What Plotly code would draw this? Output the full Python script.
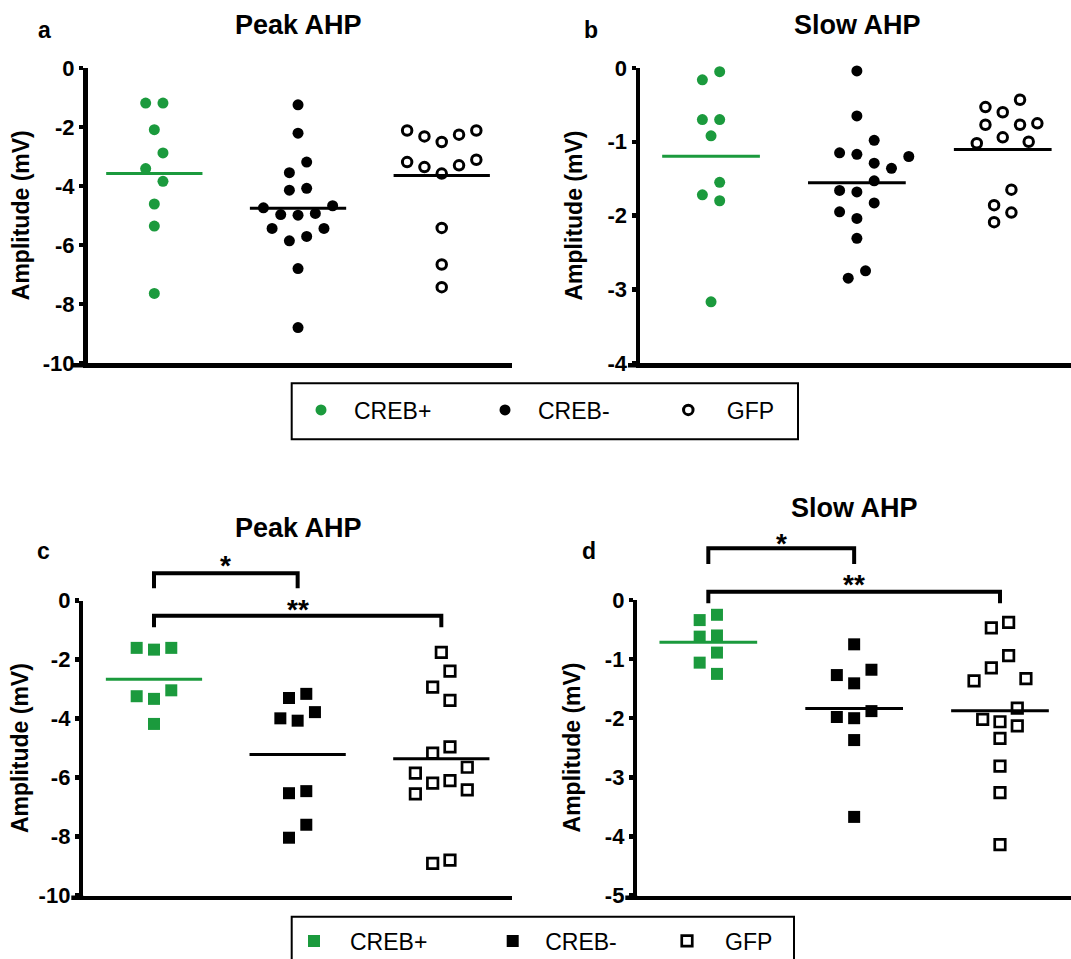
import numpy as np
import plotly.graph_objects as go

# ---------------- data (mV) ----------------
groups = ["CREB+", "CREB-", "GFP"]

# a: Peak AHP (top row, circles)
peak1_creb_pos = [-1.19, -1.19, -2.09, -2.88, -3.41, -3.84, -4.61, -5.36, -7.64]
peak1_creb_neg = [-1.25, -2.21, -3.19, -3.55, -4.14, -4.08, -4.74, -4.67, -4.97, -4.99,
                  -4.93, -5.44, -5.44, -5.86, -5.71, -6.80, -8.80]
peak1_gfp = [-2.12, -2.26, -2.51, -2.32, -2.12, -3.19, -3.36, -3.58, -3.30, -3.11,
             -5.42, -6.66, -7.43]

# b: Slow AHP (top row, circles)
slow1_creb_pos = [-0.05, -0.16, -0.70, -0.70, -0.92, -1.55, -1.72, -1.80, -3.17]
slow1_creb_neg = [-0.04, -0.65, -0.98, -1.15, -1.20, -1.17, -1.29, -1.36, -1.53, -1.66,
                  -1.68, -1.83, -1.95, -2.04, -2.31, -2.75, -2.85]
slow1_gfp = [-0.43, -0.53, -0.60, -0.77, -0.77, -0.75, -0.94, -1.02, -1.00, -1.65,
             -1.86, -1.96, -2.09]

# c: Peak AHP (bottom row, squares)
peak2_creb_pos = [-1.60, -1.66, -1.60, -3.24, -3.33, -3.04, -4.18]
peak2_creb_neg = [-3.16, -3.30, -3.78, -4.07, -3.99, -6.46, -6.53, -7.60, -8.04]
peak2_gfp = [-1.75, -2.39, -2.93, -3.38, -4.96, -5.17, -5.65, -5.85, -6.10, -6.19,
             -6.42, -6.55, -8.91, -8.80]

# d: Slow AHP (bottom row, squares)
slow2_creb_pos = [-0.25, -0.34, -0.62, -0.60, -0.89, -1.06, -1.25]
slow2_creb_neg = [-0.75, -1.27, -1.18, -1.41, -1.88, -2.00, -1.98, -2.37, -3.67]
slow2_gfp = [-0.38, -0.47, -0.94, -1.15, -1.33, -1.37, -1.83, -2.02, -2.06, -2.13,
             -2.34, -2.81, -3.26, -4.14]

ticks_peak = [0, -2, -4, -6, -8, -10]
ticks_slow_top = [0, -1, -2, -3, -4]
ticks_slow_bottom = [0, -1, -2, -3, -4, -5]

# significance brackets (group index pairs and labels)
sig_pairs = [(0, 1, "*"), (0, 2, "**")]

# ---------------- styling / layout ----------------
W, H = 1071, 959
FONT = "Liberation Sans, Arial, Helvetica, sans-serif"
GREEN = "#1b9a3d"
BLACK = "#000000"
AX_LW = 4.5


def px(x):
    return x / W


def py(y):
    return 1 - y / H


# pixel geometry of each panel plot area
geom = {
    "a": dict(left=87.5, right=512, top=68, bottom=363, xr=[-0.465, 2.489], yr=[-10, 0],
              ticks=ticks_peak, title="Peak AHP", tx=298.3, ty=24.5, lx=44, ly=30, atx=20.7, ext=15),
    "b": dict(left=640, right=1071, top=68, bottom=363, xr=[-0.487, 2.468], yr=[-4, 0],
              ticks=ticks_slow_top, title="Slow AHP", tx=857, ty=24.5, lx=591, ly=30, atx=573, ext=12),
    "c": dict(left=83.3, right=512, top=600.7, bottom=895.5, xr=[-0.492, 2.492], yr=[-10, 0],
              ticks=ticks_peak, title="Peak AHP", tx=298.3, ty=527.5, lx=43, ly=551, atx=20, ext=12),
    "d": dict(left=637.3, right=1071, top=600, bottom=895.5, xr=[-0.487, 2.487], yr=[-5, 0],
              ticks=ticks_slow_bottom, title="Slow AHP", tx=854.7, ty=507.8, lx=589.3, ly=551, atx=571.7, ext=12),
}

# bracket geometry in data units of each bottom panel
brackets = {
    "c": [dict(bar=0.93, leg=0.42, text=1.20), dict(bar=-0.51, leg=-0.90, text=-0.31)],
    "d": [dict(bar=0.875, leg=0.61, text=0.96), dict(bar=0.14, leg=-0.056, text=0.26)],
}

panel_data = {
    "a": [peak1_creb_pos, peak1_creb_neg, peak1_gfp],
    "b": [slow1_creb_pos, slow1_creb_neg, slow1_gfp],
    "c": [peak2_creb_pos, peak2_creb_neg, peak2_gfp],
    "d": [slow2_creb_pos, slow2_creb_neg, slow2_gfp],
}

circle_styles = [
    dict(symbol="circle", color=GREEN, size=11, line=dict(width=0)),
    dict(symbol="circle", color=BLACK, size=11, line=dict(width=0)),
    dict(symbol="circle-open", color=BLACK, size=9.5, line=dict(width=3, color=BLACK)),
]
square_styles = [
    dict(symbol="square", color=GREEN, size=12, line=dict(width=0)),
    dict(symbol="square", color=BLACK, size=12, line=dict(width=0)),
    dict(symbol="square-open", color=BLACK, size=10.5, line=dict(width=2.7, color=BLACK)),
]
line_colors = [GREEN, BLACK, BLACK]


def swarm(values, ppx, ppy, h_px=8.65, d_px=16.0, row_px=16.0):
    """Row-based beeswarm (Prism-like): points with close values share a centred row;
    rows are widened or shifted on a half-step lattice until no markers overlap."""
    order = sorted(range(len(values)), key=lambda i: -values[i])
    rows, cur = [], []
    for i in order:
        if cur and (values[cur[0]] - values[i]) * ppy > row_px:
            rows.append(cur)
            cur = []
        cur.append(i)
    if cur:
        rows.append(cur)
    placed = []
    offs = [0.0] * len(values)
    for row in rows:
        n = len(row)
        base = [(k - (n - 1) / 2) * 2 * h_px for k in range(n)]
        # slot order: centre first, then alternately left / right going outwards
        base_sorted = sorted(base, key=lambda p: (abs(p), p))
        members = sorted(row, key=lambda i: values[i])  # lowest value in the centre
        cands = []
        for j in range(0, 5):
            pat = [p + (2 * h_px * j if p > 0 else (-2 * h_px * j if p < 0 else 0)) for p in base_sorted]
            cands.append((max(abs(p) for p in pat), 0, 0, pat))
        for k in range(1, 14):
            for s in (-k * h_px, k * h_px):
                pat = [p + s for p in base_sorted]
                cands.append((max(abs(p) for p in pat), 1, abs(s), pat))
        cands.sort(key=lambda c: (round(c[0], 3), c[1], c[2]))
        chosen = cands[-1][3]
        for _, _, _, pat in cands:
            ok = True
            for idx, p in zip(members, pat):
                yp = values[idx] * ppy
                if any((p - a) ** 2 + (yp - b) ** 2 < d_px ** 2 for a, b in placed):
                    ok = False
                    break
            if ok:
                chosen = pat
                break
        for idx, p in zip(members, chosen):
            placed.append((p, values[idx] * ppy))
            offs[idx] = p / ppx
    return offs


fig = go.Figure()
layout = dict(
    width=W, height=H,
    margin=dict(l=0, r=0, t=0, b=0, autoexpand=False),
    paper_bgcolor="white", plot_bgcolor="rgba(0,0,0,0)",
    font=dict(family=FONT, color="black"),
    showlegend=True,
)
annotations = []
shapes = []

panel_keys = ["a", "b", "c", "d"]
for pi, key in enumerate(panel_keys):
    g = geom[key]
    n = pi + 1
    xid = "x" if n == 1 else f"x{n}"
    yid = "y" if n == 1 else f"y{n}"
    xname = "xaxis" if n == 1 else f"xaxis{n}"
    yname = "yaxis" if n == 1 else f"yaxis{n}"
    layout[xname] = dict(
        domain=[px(g["left"]), px(g["right"])], range=g["xr"], anchor=yid,
        showline=True, linewidth=AX_LW, linecolor="black", ticks="", showticklabels=False,
        showgrid=False, zeroline=False, fixedrange=True,
    )
    layout[yname] = dict(
        domain=[py(g["bottom"]), py(g["top"])], range=g["yr"], anchor=xid,
        showline=True, linewidth=AX_LW, linecolor="black", ticks="outside", ticklen=4,
        tickwidth=AX_LW, tickcolor="black", tickvals=g["ticks"],
        ticktext=[str(t) for t in g["ticks"]],
        tickfont=dict(family=FONT, size=22, color="black", weight="bold"),
        showgrid=False, zeroline=False, fixedrange=True,
    )
    # x-axis baseline continues a little to the left of the y spine (as in the original)
    shapes.append(dict(type="line", xref="paper", yref="paper",
                       x0=px(g["left"] - g["ext"]), x1=px(g["left"]),
                       y0=py(g["bottom"] + AX_LW / 2), y1=py(g["bottom"] + AX_LW / 2),
                       line=dict(color="black", width=AX_LW)))
    ppx = (g["right"] - g["left"]) / (g["xr"][1] - g["xr"][0])
    ppy = (g["bottom"] - g["top"]) / (g["yr"][1] - g["yr"][0])
    styles = circle_styles if key in ("a", "b") else square_styles
    for gi, vals in enumerate(panel_data[key]):
        offs = swarm(vals, ppx, ppy)
        if key == "a":
            leg = ["legend", "legend2", "legend3"][gi]
            show = True
        elif key == "c":
            leg = ["legend4", "legend5", "legend6"][gi]
            show = True
        else:
            leg = "legend"
            show = False
        st = styles[gi]
        fig.add_trace(go.Scatter(
            x=[gi + o for o in offs], y=vals, mode="markers", name=groups[gi],
            marker=dict(symbol=st["symbol"], color=st["color"], size=st["size"], line=st["line"]),
            xaxis=xid, yaxis=yid, cliponaxis=False, legend=leg, showlegend=show,
            hoverinfo="skip",
        ))
        m = float(np.mean(vals))
        fig.add_trace(go.Scatter(
            x=[gi - 0.335, gi + 0.335], y=[m, m], mode="lines",
            line=dict(color=line_colors[gi], width=3), xaxis=xid, yaxis=yid,
            showlegend=False, hoverinfo="skip",
        ))

    # titles, panel letters, axis titles
    annotations.append(dict(text="<b>%s</b>" % g["title"], x=px(g["tx"]), y=py(g["ty"]),
                            xref="paper", yref="paper", showarrow=False, xanchor="center",
                            yanchor="middle", font=dict(family=FONT, size=27, color="black")))
    annotations.append(dict(text="<b>%s</b>" % key, x=px(g["lx"]), y=py(g["ly"]),
                            xref="paper", yref="paper", showarrow=False, xanchor="center",
                            yanchor="middle", font=dict(family=FONT, size=23, color="black")))
    annotations.append(dict(text="<b>Amplitude (mV)</b>", x=px(g["atx"]),
                            y=py((g["top"] + g["bottom"]) / 2), xref="paper", yref="paper",
                            showarrow=False, xanchor="center", yanchor="middle", textangle=-90,
                            font=dict(family=FONT, size=23, color="black")))

    # significance brackets on a hidden axis sharing the panel's scale
    if key in brackets:
        bn = n + 2  # yaxis5 for c, yaxis6 for d
        byid = f"y{bn}"
        extra_px = 75
        top_val = g["yr"][1] + extra_px / ppy
        layout[f"yaxis{bn}"] = dict(
            domain=[py(g["bottom"]), py(g["top"] - extra_px)], range=[g["yr"][0], top_val],
            anchor=xid, visible=False, fixedrange=True,
        )
        for (i, j, lab), bk in zip(sig_pairs, brackets[key]):
            fig.add_trace(go.Scatter(
                x=[i, i, j, j], y=[bk["leg"], bk["bar"], bk["bar"], bk["leg"]], mode="lines",
                line=dict(color="black", width=4), xaxis=xid, yaxis=byid,
                showlegend=False, hoverinfo="skip",
            ))
            annotations.append(dict(text="<b>%s</b>" % lab, x=(i + j) / 2, y=bk["text"],
                                    xref=xid, yref=byid, showarrow=False, xanchor="center",
                                    yanchor="middle", font=dict(family=FONT, size=28, color="black")))

# legends: one per entry so spacing can follow the original
# (symbol centre x, text centre y, symbol-area width)
legend_pos = {
    "legend": (320, 410, 56), "legend2": (504, 410, 56), "legend3": (687.3, 410, 67),
    "legend4": (313, 941, 62), "legend5": (511.7, 941, 55), "legend6": (686, 941, 66),
}
for name, (sx, sy, iw) in legend_pos.items():
    layout[name] = dict(x=px(sx - (iw / 2 + 4)), y=py(sy), xref="paper", yref="paper",
                        xanchor="left", yanchor="middle", bgcolor="rgba(0,0,0,0)", borderwidth=0,
                        font=dict(family=FONT, size=23, color="black"), itemwidth=iw)

# legend frames
shapes.append(dict(type="rect", xref="paper", yref="paper", x0=px(291.7), x1=px(798),
                   y0=py(439.3), y1=py(383.3), line=dict(color="black", width=2)))
shapes.append(dict(type="rect", xref="paper", yref="paper", x0=px(291.7), x1=px(794),
                   y0=py(990), y1=py(916.7), line=dict(color="black", width=2)))

layout["annotations"] = annotations
layout["shapes"] = shapes
fig.update_layout(**layout)
fig.write_html("out.html", config={"displayModeBar": False, "staticPlot": True},
               post_script="document.body.style.margin='0px';document.body.style.overflow='hidden';")
